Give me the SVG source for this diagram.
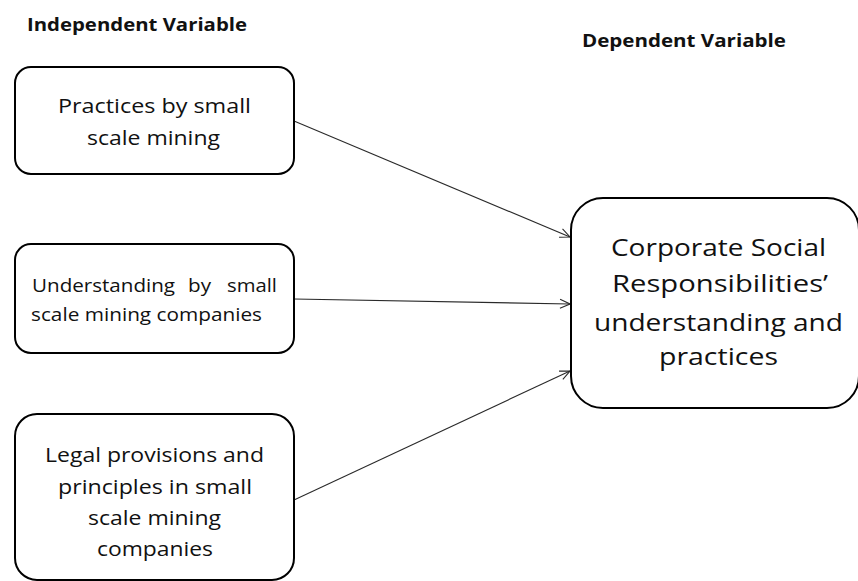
<svg xmlns="http://www.w3.org/2000/svg" width="858" height="581" viewBox="0 0 858 581">
  <style>
    .box { fill: #ffffff; stroke: #000000; stroke-width: 2; }
    .label { font-family: "Open Sans", "Liberation Sans", sans-serif; fill: #111111; text-anchor: start; }
    .head { font-family: "Open Sans", "Liberation Sans", sans-serif; font-weight: bold; font-size: 17px; fill: #111111; }
    .edge { stroke: #2a2a2a; stroke-width: 1.1; fill: none; marker-end: url(#vhead); }
  </style>
  <defs>
    <marker id="vhead" viewBox="0 0 12 12" refX="11" refY="6" markerWidth="12" markerHeight="12" markerUnits="userSpaceOnUse" orient="auto">
      <path d="M1,1.5 L11,6 L1,10.5" fill="none" stroke="#2a2a2a" stroke-width="1.1"/>
    </marker>
  </defs>
  <rect width="858" height="581" fill="#ffffff"/>

  <text class="head" x="27" y="31" textLength="220" lengthAdjust="spacingAndGlyphs">Independent Variable</text>
  <text class="head" x="582" y="47" textLength="204" lengthAdjust="spacingAndGlyphs">Dependent Variable</text>

  <g id="connectors">
    <line class="edge" x1="294" y1="121" x2="570" y2="237"/>
    <line class="edge" x1="294" y1="299" x2="570" y2="304"/>
    <line class="edge" x1="294" y1="500" x2="570" y2="371"/>
  </g>

  <g id="practices">
    <rect class="box" x="15" y="67" width="279" height="107" rx="16"/>
    <text class="label" font-size="20" x="58" y="113" textLength="193" lengthAdjust="spacingAndGlyphs">Practices by small</text>
    <text class="label" font-size="20" x="87" y="145" textLength="133" lengthAdjust="spacingAndGlyphs">scale mining</text>
  </g>

  <g id="understanding">
    <rect class="box" x="15" y="244" width="279" height="109" rx="16"/>
    <text class="label" font-size="18" y="292">
      <tspan x="32" textLength="143" lengthAdjust="spacingAndGlyphs">Understanding</tspan>
      <tspan x="188" textLength="23" lengthAdjust="spacingAndGlyphs">by</tspan>
      <tspan x="227" textLength="50" lengthAdjust="spacingAndGlyphs">small</tspan>
    </text>
    <text class="label" font-size="18" x="31" y="321" textLength="231" lengthAdjust="spacingAndGlyphs">scale mining companies</text>
  </g>

  <g id="legal">
    <rect class="box" x="15" y="414" width="279" height="166" rx="22"/>
    <text class="label" font-size="20" x="45" y="462" textLength="219" lengthAdjust="spacingAndGlyphs">Legal provisions and</text>
    <text class="label" font-size="20" x="58" y="494" textLength="194" lengthAdjust="spacingAndGlyphs">principles in small</text>
    <text class="label" font-size="20" x="88" y="525" textLength="133" lengthAdjust="spacingAndGlyphs">scale mining</text>
    <text class="label" font-size="20" x="97" y="556" textLength="116" lengthAdjust="spacingAndGlyphs">companies</text>
  </g>

  <g id="csr">
    <rect class="box" x="571" y="198" width="288" height="210" rx="32"/>
    <text class="label" font-size="24" x="611" y="256" textLength="215" lengthAdjust="spacingAndGlyphs">Corporate Social</text>
    <text class="label" font-size="24" x="612" y="292" textLength="216" lengthAdjust="spacingAndGlyphs">Responsibilities’</text>
    <text class="label" font-size="24" x="594" y="331" textLength="249" lengthAdjust="spacingAndGlyphs">understanding and</text>
    <text class="label" font-size="24" x="659" y="365" textLength="119" lengthAdjust="spacingAndGlyphs">practices</text>
  </g>
</svg>
